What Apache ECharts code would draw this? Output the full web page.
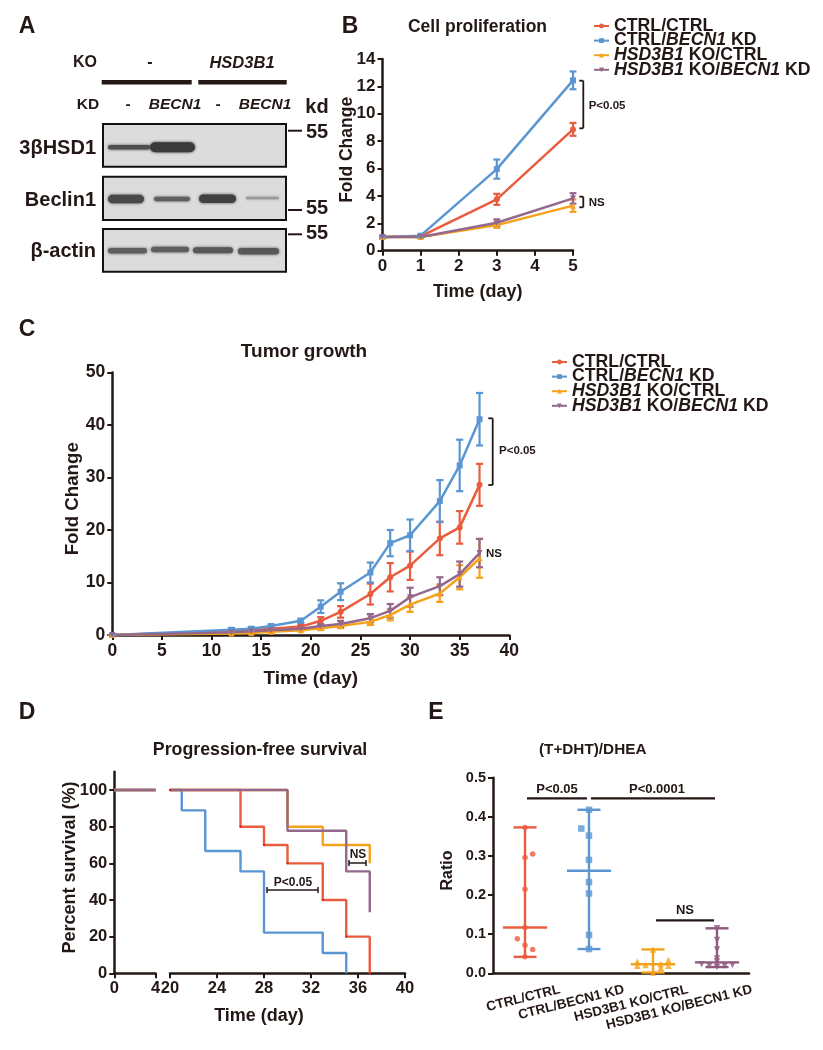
<!DOCTYPE html>
<html><head><meta charset="utf-8">
<style>html,body{margin:0;padding:0;background:#fff}#c{width:823px;height:1050px}canvas{filter:blur(.6px)}</style>
<script src="https://cdn.jsdelivr.net/npm/echarts@6/dist/echarts.min.js"></script>
</head><body><div id="c"></div>
<script>
// ---------- data ----------
const groupNames = ['CTRL/CTRL','CTRL/BECN1 KD','HSD3B1 KO/CTRL','HSD3B1 KO/BECN1 KD'];
const groupLegend = ['CTRL/CTRL','CTRL/{i|BECN1} KD','{i|HSD3B1} KO/CTRL','{i|HSD3B1} KO/{i|BECN1} KD'];
const groupColors = ['#ea5c3e','#5a96d2','#f5a21b','#93688c'];
const groupSymbols = ['circle','rect','triangle','path://M0,0L10,0L5,10Z'];

const procDays = [0,1,3,5];
const procMean = [[1,1.05,3.75,8.86],[1,1.1,5.96,12.44],[1,1.0,1.87,3.29],[1,1.0,2.04,3.82]];
const procErr  = [[0.05,0.05,0.4,0.47],[0.05,0.05,0.7,0.65],[0.05,0.05,0.2,0.45],[0.05,0.05,0.25,0.38]];

const tumorDays = [0,12,14,16,19,21,23,26,28,30,33,35,37];
const tumorMean = [
 [0,0.7,0.9,1.2,1.6,2.7,4.4,7.8,11,13.2,18.4,20.5,28.6],
 [0,1.0,1.2,1.7,2.7,5.4,8.25,11.9,17.5,19,25.5,32.3,41.1],
 [0,0.3,0.4,0.6,0.9,1.3,1.7,2.5,3.8,5.8,7.9,11,14.6],
 [0,0.5,0.7,0.9,1.2,1.7,2.1,3.2,4.6,7.2,9.3,11.6,15.6]];
const tumorErr = [
 [0,0.2,0.2,0.2,0.3,0.7,1.1,2,2.7,2.7,3.2,3.1,4],
 [0,0.3,0.3,0.3,0.4,1.2,1.6,1.9,2.5,3,4,4.9,5],
 [0,0.1,0.1,0.2,0.2,0.3,0.4,0.6,1,1.4,1.6,2.3,3.7],
 [0,0.1,0.2,0.2,0.2,0.3,0.6,0.8,1.3,1.8,1.7,2.4,2.7]];

const survivalEarly = [[0,100],[4,100]];
const survivalLate = [
 [[20,100],[26,80],[28,70],[30,60],[33,40],[35,20],[37,0]],
 [[20,100],[21,88.9],[23,66.7],[26,55.6],[28,22.2],[33,11.1],[35,0]],
 [[20,100],[30,80],[33,70],[37,60]],
 [[20,100],[30,77.8],[35,55.6],[37,33.3]]];

// [jitter within the category, ratio]
const ratioPoints = [
 [[0,.373],[0,.296],[.12,.305],[0,.215],[0,.117],[-.12,.088],[0,.072],[.12,.061],[0,.042]],
 [[0,.418],[-.12,.37],[0,.352],[0,.29],[0,.233],[0,.204],[0,.098],[0,.062]],
 [[-.245,.03],[-.245,.019],[-.115,.021],[0,.061],[0,.002],[.12,.023],[.12,.014],[.24,.034],[.24,.019]],
 [[0,.115],[0,.085],[0,.061],[0,.038],[0,.03],[0,.016],[-.24,.023],[-.12,.019],[.12,.019],[.24,.021]]];
const ratioLow = [.042,.062,.002,.016];
const ratioMedian = [.117,.262,.023,.028];
const ratioHigh = [.373,.418,.061,.115];

const blotRows = ['3βHSD1','Beclin1','β-actin'];
const blotLanes = ['-','BECN1','-','BECN1'];
// band darkness per lane, 0 means no band
const blotDarkness = [[.8,.95,0,0],[.85,.7,.9,.3],[.7,.7,.75,.75]];

// ---------- style ----------
const FONT = '"Liberation Sans", Arial, sans-serif';
const INK = '#231815';
const T = (s, x, y, o) => ({type:'text', x, y, silent:true,
  style:Object.assign({text:s, fontFamily:FONT, fontWeight:'bold', fill:INK, fontSize:13, align:'center', verticalAlign:'middle'}, o||{})});
const L = (x1,y1,x2,y2,w) => ({type:'line', silent:true, shape:{x1,y1,x2,y2}, style:{stroke:INK, lineWidth:w||2}});

function valueAxis(gridIndex, min, max, interval, size, extra){
  return Object.assign({type:'value', gridIndex, min, max, interval, splitLine:{show:false}, nameMoveOverlap:false,
    axisLine:{show:true, onZero:false, lineStyle:{color:INK, width:2.5}},
    axisTick:{show:true, length:5, lineStyle:{color:INK, width:2}},
    axisLabel:{show:true, color:INK, fontFamily:FONT, fontWeight:'bold', fontSize:size, margin:7, hideOverlap:false}}, extra||{});
}
const nameStyle = (size, padding) => ({color:INK, fontFamily:FONT, fontWeight:'bold', fontSize:size, padding});

const grids = [
 {left:382.5, top:59, width:190.5, height:191.7},
 {left:112.3, top:372.5, width:397, height:262.5},
 {left:114.3, top:771.7, width:41.4, height:201.6},
 {left:170, top:771.7, width:235, height:201.6},
 {left:493, top:777.7, width:256, height:195.6},
 {left:528, top:777.7, width:256, height:195.6}
];

const xAxes = [
 valueAxis(0,0,5,1,17,{name:'Time (day)',nameLocation:'middle',nameGap:32,nameTextStyle:nameStyle(18)}),
 valueAxis(1,0,40,5,17.5,{name:'Time (day)',nameLocation:'middle',nameGap:34,nameTextStyle:nameStyle(19)}),
 valueAxis(2,0,4,4,16.5),
 valueAxis(3,20,40,4,16.5,{name:'Time (day)',nameLocation:'middle',nameGap:34,nameTextStyle:nameStyle(18,[0,57,0,0])}),
 {type:'category',gridIndex:4,data:groupNames,axisLine:{lineStyle:{color:INK,width:2.5}},
  axisTick:{alignWithLabel:true,length:5,lineStyle:{color:INK,width:2}},axisLabel:{show:false}},
 {type:'value',gridIndex:4,min:0,max:4,show:false},
 {type:'category',gridIndex:5,data:groupNames,axisLine:{show:false},axisTick:{show:false},
  axisLabel:{interval:0,rotate:14,color:INK,fontFamily:FONT,fontWeight:'bold',fontSize:13.5,margin:16,hideOverlap:false}}
];
const yAxes = [
 valueAxis(0,0,14,2,17,{name:'Fold Change',nameLocation:'middle',nameGap:26,nameTextStyle:nameStyle(17.5,[0,0,0,10])}),
 valueAxis(1,0,50,10,17.5,{name:'Fold Change',nameLocation:'middle',nameGap:30,nameTextStyle:nameStyle(18.7,[0,0,0,10])}),
 valueAxis(2,0,110,20,16.5,{name:'Percent survival (%)',nameLocation:'middle',nameGap:35.5,nameTextStyle:nameStyle(18,[0,0,0,10]),
   axisTick:{show:true,length:5,lineStyle:{color:INK,width:2},customValues:[0,20,40,60,80,100]},
   axisLabel:{show:true,color:INK,fontFamily:FONT,fontWeight:'bold',fontSize:16.5,margin:7,customValues:[0,20,40,60,80,100]}}),
 {type:'value',gridIndex:3,min:0,max:110,show:false},
 valueAxis(4,0,.5,.1,14.5,{name:'Ratio',nameLocation:'middle',nameGap:37,nameTextStyle:nameStyle(16,[0,0,0,10]),
   axisLabel:{show:true,color:INK,fontFamily:FONT,fontWeight:'bold',fontSize:14.5,margin:7,formatter:v=>v.toFixed(1)}}),
 {type:'value',gridIndex:5,min:0,max:.5,show:false}
];

// error bars in data space; cap width is given in x-axis units
function errorSeries(name, color, xAxisIndex, yAxisIndex, rows, capX){
  return {type:'custom', name:name+' err', xAxisIndex, yAxisIndex, clip:false, silent:true, z:3,
    encode:{x:0,y:[1,2]}, data:rows,
    renderItem(p, api){
      const x=api.value(0), lo=api.value(1), hi=api.value(2);
      const a=api.coord([x,lo]), b=api.coord([x,hi]);
      const l=api.coord([x-capX,lo])[0], r=api.coord([x+capX,lo])[0];
      const st={stroke:color,lineWidth:2.2};
      return {type:'group',children:[
        {type:'line',shape:{x1:a[0],y1:a[1],x2:b[0],y2:b[1]},style:st},
        {type:'line',shape:{x1:l,y1:a[1],x2:r,y2:a[1]},style:st},
        {type:'line',shape:{x1:l,y1:b[1],x2:r,y2:b[1]},style:st}]};
    }};
}
const series = [];
function timeCourse(ax, days, mean, err, capX){
  groupNames.forEach((name,i)=>{
    series.push({type:'line', name, xAxisIndex:ax, yAxisIndex:ax, clip:false, z:4,
      data:days.map((d,k)=>[d,mean[i][k]]), symbol:groupSymbols[i], symbolSize:6, showSymbol:true,
      lineStyle:{color:groupColors[i],width:2.5}, itemStyle:{color:groupColors[i]}});
    series.push(errorSeries(name,groupColors[i],ax,ax,days.map((d,k)=>[d,mean[i][k]-err[i][k],mean[i][k]+err[i][k]]),capX));
  });
}
timeCourse(0,procDays,procMean,procErr,.09);
timeCourse(1,tumorDays,tumorMean,tumorErr,.36);

groupNames.forEach((name,i)=>{
  const base={type:'line',name,clip:false,silent:true,animation:false,z:4,lineStyle:{color:groupColors[i],width:2.4},itemStyle:{color:groupColors[i]}};
  series.push(Object.assign({},base,{xAxisIndex:2,yAxisIndex:2,data:survivalEarly,showSymbol:false}));
  series.push(Object.assign({},base,{xAxisIndex:3,yAxisIndex:3,data:survivalLate[i],step:'end',
    showSymbol:i===0,symbol:'rect',symbolSize:2,itemStyle:{color:i===0?'#e01c20':groupColors[i]}}));
});

groupNames.forEach((name,i)=>{
  const c=i+.5, col=i===3?'#8e5a7f':groupColors[i];
  series.push({type:'scatter',name,xAxisIndex:5,yAxisIndex:4,clip:false,z:5,symbol:groupSymbols[i],symbolSize:i===0?5.5:6.5,
    itemStyle:{color:col},data:ratioPoints[i].map(p=>[c+p[0],p[1]])});
  series.push({type:'custom',name:name+' err',xAxisIndex:5,yAxisIndex:4,clip:false,silent:true,z:4,
    encode:{x:0,y:[1,2,3]},data:[[c,ratioLow[i],ratioMedian[i],ratioHigh[i]]],
    renderItem(p,api){
      const x=api.value(0);
      const hl=(v,half)=>{const a=api.coord([x-half,v]),b=api.coord([x+half,v]);
        return {type:'line',shape:{x1:a[0],y1:a[1],x2:b[0],y2:b[1]},style:{stroke:col,lineWidth:2.4}};};
      const lo=api.coord([x,api.value(1)]),hi=api.coord([x,api.value(3)]);
      return {type:'group',children:[
        {type:'line',shape:{x1:lo[0],y1:lo[1],x2:hi[0],y2:hi[1]},style:{stroke:col,lineWidth:2.4}},
        hl(api.value(1),.18),hl(api.value(3),.18),hl(api.value(2),.345)]};
    }});
});

// ---------- panel A blot, panel letters and significance marks ----------
const gfx = [];
[['A',27,27],['B',350,27],['C',27,330],['D',27,713],['E',436,713]].forEach(a=>gfx.push(T(a[0],a[1],a[2],{fontSize:23})));

gfx.push(T('KO',85,63,{fontSize:16}),T('-',150,63,{fontSize:16}),T('HSD3B1',242,63,{fontSize:16.5,fontStyle:'italic'}),
 T('KD',88,104.5,{fontSize:15.5}),L(101.7,82.3,191.7,82.3,4.5),L(198.3,82.3,286.7,82.3,4.5));
const laneX=[128,175,218,265];
blotLanes.forEach((s,i)=>gfx.push(T(s,laneX[i],104.5,{fontSize:15.5,fontStyle:s==='-'?'normal':'italic'})));
gfx.push(T('kd',317,107,{fontSize:20}));

const rowBox=[[124,166.7],[176.7,220],[229,271.7]];
const rowLabelY=[148,200,251.5];
const bandGeom=[
 [[108,150,147.3,4.5],[150,195,147.3,10],null,null],
 [[108,144,199,8.5],[154,190,199,4.5],[199,236,198.8,8.5],[246,279,198,2.5]],
 [[108,147,250.7,5.5],[151,189,249.5,5.5],[193,233,250.3,6],[238,279,251.3,6.5]]];
blotRows.forEach((r,i)=>{
  const [y0,y1]=rowBox[i];
  gfx.push({type:'rect',silent:true,shape:{x:103,y:y0,width:183,height:y1-y0},style:{fill:'#dcdcdc',stroke:'#111',lineWidth:2}});
  blotDarkness[i].forEach((d,k)=>{
    if(!d) return;
    const g=bandGeom[i][k], v=Math.round(200-d*150), col=`rgb(${v},${v},${v})`;
    gfx.push({type:'rect',silent:true,shape:{x:g[0],y:g[2]-g[3]/2,width:g[1]-g[0],height:g[3],r:g[3]/2},
      style:{fill:col,shadowBlur:3,shadowColor:col}});
  });
  gfx.push(T(r,96,rowLabelY[i],{fontSize:20,align:'right'}));
});
[[130.7,132],[210,208],[234.3,233]].forEach(k=>gfx.push(L(288,k[0],302,k[0],2),T('55',317,k[1],{fontSize:20})));

function bracket(x,y0,y1,tick){return [L(x,y0,x,y1,1.8),L(x-tick,y0,x,y0,1.8),L(x-tick,y1,x,y1,1.8)];}
gfx.push(...bracket(583.3,80.7,128.3,4),T('P<0.05',588.7,106,{fontSize:11.5,align:'left'}));
gfx.push(...bracket(583.3,196.7,207.3,4),T('NS',588.7,202.7,{fontSize:11.5,align:'left'}));
gfx.push(...bracket(492.7,418.3,485,4.4),T('P<0.05',499,451,{fontSize:11.5,align:'left'}));
gfx.push(T('NS',486,554.3,{fontSize:11.5,align:'left'}));
function span(x0,x1,y){return [L(x0,y,x1,y,1.5),L(x0,y-3,x0,y+3,1.5),L(x1,y-3,x1,y+3,1.5)];}
gfx.push(...span(267,318,890),T('P<0.05',293,882.7,{fontSize:12}));
gfx.push(...span(349,366,863),T('NS',358,855,{fontSize:12}));
gfx.push(L(527,798.3,587,798.3,2.2),L(591,798.3,715,798.3,2.2),L(656,920.3,714,920.3,2.2),
 T('P<0.05',557,789,{fontSize:13}),T('P<0.0001',657,789,{fontSize:13}),T('NS',685,910,{fontSize:13}));

const titleOf=(text,left,top,size)=>({text,left,top,padding:0,textAlign:'center',
  textStyle:{color:INK,fontFamily:FONT,fontWeight:'bold',fontSize:size}});
const legendAt=(left,top)=>({left,top,padding:0,orient:'vertical',itemWidth:15,itemHeight:6,itemGap:-3.4,selectedMode:false,
  data:groupNames,formatter:n=>groupLegend[groupNames.indexOf(n)],
  textStyle:{color:INK,fontFamily:FONT,fontWeight:'bold',fontSize:17.7,
    rich:{i:{fontStyle:'italic',fontWeight:'bold',fontFamily:FONT,fontSize:17.7}}}});

const chart = echarts.init(document.getElementById('c'),null,{renderer:'canvas'});
chart.setOption({
  animation:false, backgroundColor:'#fff',
  title:[titleOf('Cell proliferation',477.5,18,17.5),titleOf('Tumor growth',304,342.5,19),
         titleOf('Progression-free survival',260,741,17.8),titleOf('(T+DHT)/DHEA',592.7,742,15.3)],
  legend:[legendAt(593,17),legendAt(551,353)],
  grid:grids, xAxis:xAxes, yAxis:yAxes, series, graphic:gfx
});
</script></body></html>
